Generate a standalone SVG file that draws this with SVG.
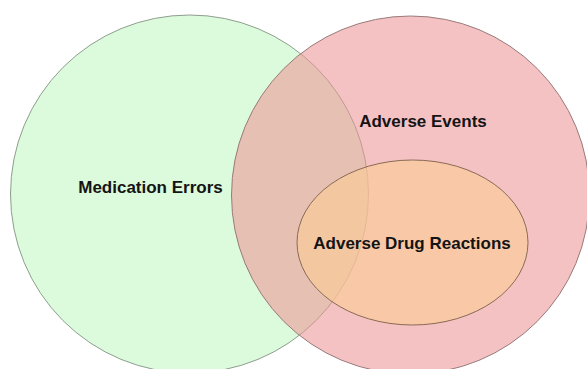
<svg xmlns="http://www.w3.org/2000/svg" width="587" height="369" viewBox="0 0 587 369">
<style>
.lbl{font-family:"Liberation Sans",Arial,sans-serif;font-weight:bold;font-size:17px;fill:#141414;text-anchor:middle}
</style>
<rect width="587" height="369" fill="#ffffff"/>
<g id="medication-errors">
<circle cx="189.5" cy="194" r="179" fill="#dcfadc" stroke="#8e9e8e" stroke-width="1"/>
</g>
<g id="adverse-events">
<circle cx="410.5" cy="195" r="179" fill="rgb(236,147,147)" fill-opacity="0.57" stroke="#9a7a7a" stroke-width="1"/>
</g>
<g id="adverse-drug-reactions">
<ellipse cx="412.5" cy="242.5" rx="115.5" ry="82.5" fill="rgb(251,205,148)" fill-opacity="0.6" stroke="#8a6a55" stroke-width="1"/>
</g>
<g id="connectors"></g>
<g id="labels">
<text class="lbl" x="150.5" y="192.5">Medication Errors</text>
<text class="lbl" x="423" y="127">Adverse Events</text>
<text class="lbl" x="412" y="249">Adverse Drug Reactions</text>
</g>
</svg>
